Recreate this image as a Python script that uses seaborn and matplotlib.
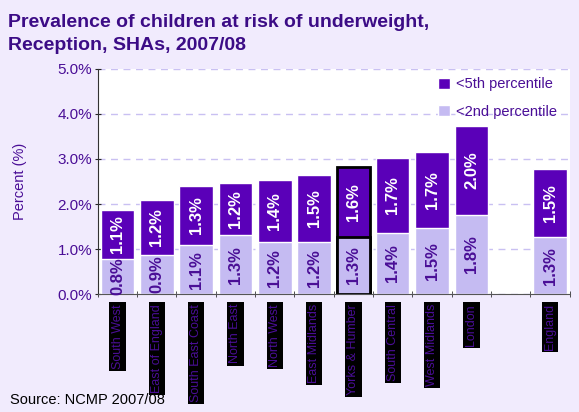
import pandas as pd
import numpy as np
import matplotlib
matplotlib.use('Agg')
import matplotlib.pyplot as plt
from matplotlib.ticker import FuncFormatter, FixedLocator
import seaborn as sns

sns.set_style("white")
plt.rcParams['font.family'] = ['Liberation Sans', 'DejaVu Sans']

### 数据
regions = ['South West', 'East of England', 'South East Coast', 'North East', 'North West',
           'East Midlands', 'Yorks & Humber', 'South Central', 'West Midlands', 'London', 'England']
order = regions[:10] + [' '] + ['England']   ## 空位隔开England
under_2nd = [0.79, 0.87, 1.09, 1.31, 1.16, 1.16, 1.27, 1.36, 1.47, 1.76, 1.26]
extra_5th = [1.08, 1.22, 1.31, 1.16, 1.37, 1.48, 1.56, 1.66, 1.69, 1.98, 1.51]
highlight = 'Yorks & Humber'

dark = '#5A00B8'
light = '#C5BBF2'
txt = '#4A0E96'
bg = '#F1EBFD'

df = pd.DataFrame({'region': regions, 'lower': under_2nd, 'upper': extra_5th})
df['total'] = df['lower'] + df['upper']

fig = plt.figure(figsize=(5.79, 4.12), dpi=100, facecolor=bg)
ax = fig.add_axes([0.169, 0.286, 0.815, 0.547])
ax.set_facecolor('white')

sns.barplot(data=df, x='region', y='total', order=order, color=dark, width=0.85,
            saturation=1, ax=ax, label='<5th percentile')
sns.barplot(data=df, x='region', y='lower', order=order, color=light, width=0.85,
            saturation=1, ax=ax, label='<2nd percentile')

## 高亮 Yorks & Humber
hi = order.index(highlight)
for p in ax.patches:
    if abs(p.get_x() + p.get_width() / 2 - hi) < 0.01:
        p.set_edgecolor('black')
        p.set_linewidth(2)

## 数值标签
for _, r in df.iterrows():
    i = order.index(r['region'])
    ax.text(i, r['lower'] / 2, f"{r['lower']:.1f}%", rotation=90, ha='center', va='center',
            color=txt, fontsize=12, fontweight='bold')
    ax.text(i, r['lower'] + r['upper'] / 2, f"{r['upper']:.1f}%", rotation=90, ha='center',
            va='center', color='white', fontsize=12, fontweight='bold')

ax.set_ylim(0, 5)
ax.set_xlim(-0.5, len(order) - 0.5)
ax.yaxis.set_major_locator(FixedLocator([0, 1, 2, 3, 4, 5]))
ax.yaxis.set_major_formatter(FuncFormatter(lambda v, p: f"{v:.1f}%"))
ax.yaxis.grid(True, linestyle=(0, (5, 4)), color='#C9C0F2', linewidth=1)
ax.set_axisbelow(True)
for s in ['top', 'right']:
    ax.spines[s].set_visible(False)
ax.spines['left'].set_color('#333333')
ax.spines['bottom'].set_color('#555555')
ax.tick_params(axis='y', left=True, length=4, direction='inout', labelsize=11, labelcolor=txt, pad=2)
ax.set_ylabel('Percent (%)', color=txt, fontsize=10.5, labelpad=22)
ax.set_xlabel('')

## x轴刻度在类别之间
ax.set_xticks(np.arange(len(order) + 1) - 0.5, minor=True)
ax.tick_params(axis='x', which='minor', bottom=True, length=4, direction='inout', color='#333333')
ax.tick_params(axis='x', which='major', bottom=False, length=0, pad=7)
ax.set_xticks(range(len(order)))
ax.set_xticklabels(order, rotation=90, fontsize=9, color=txt, va='top', ha='center')
for t in ax.get_xticklabels():
    if t.get_text().strip():
        t.set_bbox(dict(facecolor='black', edgecolor='none', pad=1.5))

leg = ax.legend(loc='upper right', frameon=False, fontsize=10.5, handlelength=0.8,
                handleheight=0.8, handletextpad=0.4, labelspacing=0.9,
                bbox_to_anchor=(1.0, 1.02))
for t in leg.get_texts():
    t.set_color(txt)

fig.text(0.014, 0.965, 'Prevalence of children at risk of underweight,\nReception, SHAs, 2007/08',
         ha='left', va='top', fontsize=14, fontweight='bold', color='#3C0C86', linespacing=1.4)
fig.text(0.017, 0.012, 'Source: NCMP 2007/08', ha='left', va='bottom', fontsize=10.5, color='black')

fig.savefig('out.png', dpi=100, facecolor=bg)
